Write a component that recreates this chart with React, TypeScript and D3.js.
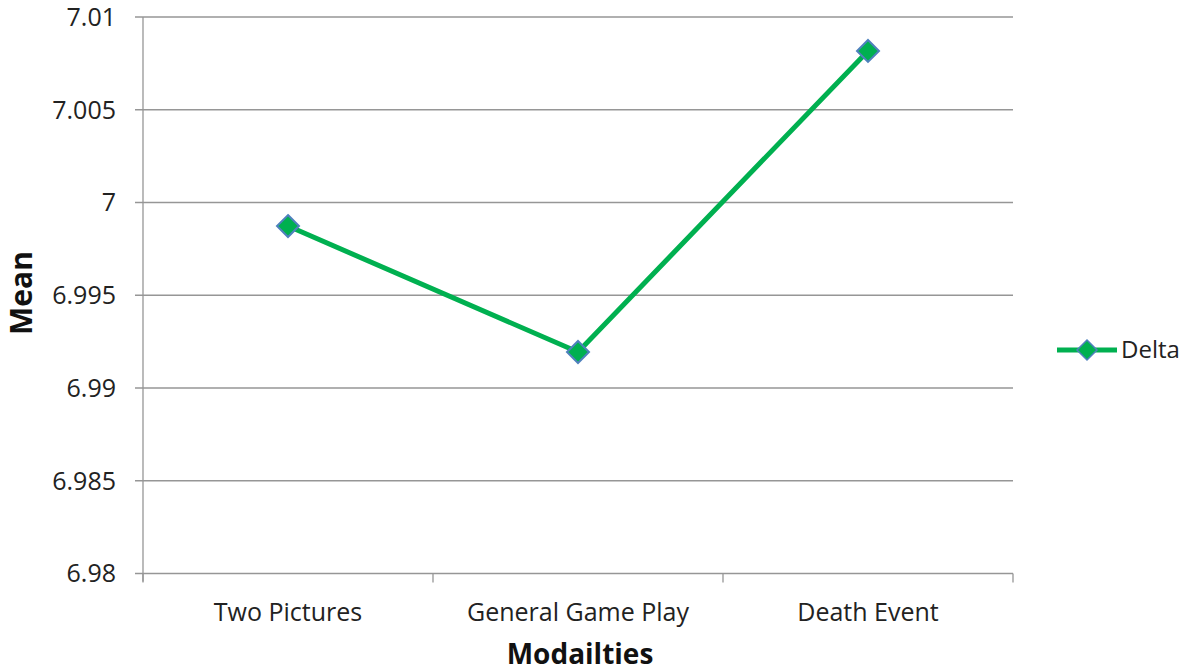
import React from "react";
import * as d3 from "d3";

const categories = ["Two Pictures", "General Game Play", "Death Event"];
const deltaValues = [6.99873, 6.99194, 7.00817];
const yTicks = [6.98, 6.985, 6.99, 6.995, 7, 7.005, 7.01];
const seriesName = "Delta";

export default function App() {
  const W = 1189, H = 672;
  const left = 143, right = 1013, top = 17, bottom = 573.5;
  const x = d3.scaleBand<string>().domain(categories).range([left, right]);
  const y = d3.scaleLinear().domain([6.98, 7.01]).range([bottom, top]);
  const line = d3.line<number>()
    .x((_, i) => (x(categories[i]) as number) + x.bandwidth() / 2)
    .y((d) => y(d));
  const font = "'Open Sans', 'Noto Sans', sans-serif";
  const diamond = (cx: number, cy: number, r: number) =>
    `M${cx},${cy - r}L${cx + r},${cy}L${cx},${cy + r}L${cx - r},${cy}Z`;
  const grid = "#969696";
  const boundaries = [...categories.map((c) => x(c) as number), right];
  return (
    <svg width={W} height={H} style={{ position: "absolute", left: 0, top: 0, background: "#fff" }}>
      {yTicks.map((t) => (
        <g key={t}>
          <line x1={left - 8} x2={right} y1={y(t)} y2={y(t)} stroke={grid} strokeWidth={1.3} />
          <text x={116} y={y(t)} dy="0.35em" textAnchor="end" fontSize={25} fill="#222" fontFamily={font}>
            {String(t)}
          </text>
        </g>
      ))}
      <line x1={left} x2={left} y1={top} y2={bottom + 8} stroke={grid} strokeWidth={1.3} />
      {boundaries.map((b, i) => (
        <line key={i} x1={b} x2={b} y1={bottom} y2={bottom + 9} stroke={grid} strokeWidth={1.3} />
      ))}
      {categories.map((c) => (
        <text key={c} x={(x(c) as number) + x.bandwidth() / 2} y={bottom + 47} textAnchor="middle" fontSize={25} fill="#222" fontFamily={font}>
          {c}
        </text>
      ))}
      <path d={line(deltaValues) || ""} fill="none" stroke="#00B050" strokeWidth={5} strokeLinejoin="round" />
      {deltaValues.map((v, i) => (
        <path key={i} d={diamond((x(categories[i]) as number) + x.bandwidth() / 2, y(v), 11)} fill="#00B050" stroke="#4F81BD" strokeWidth={2} />
      ))}
      <line x1={1057} x2={1117} y1={350} y2={350} stroke="#00B050" strokeWidth={5} />
      <path d={diamond(1087, 350, 10)} fill="#00B050" stroke="#4F81BD" strokeWidth={1.5} />
      <text x={1121} y={350} dy="0.35em" fontSize={24} fill="#222" fontFamily={font}>{seriesName}</text>
      <text transform={`translate(32,293) rotate(-90)`} textAnchor="middle" fontSize={30} fontWeight="bold" fill="#111" fontFamily={font}>Mean</text>
      <text x={580} y={664} textAnchor="middle" fontSize={28} fontWeight="bold" fill="#111" fontFamily={font}>Modailties</text>
    </svg>
  );
}
